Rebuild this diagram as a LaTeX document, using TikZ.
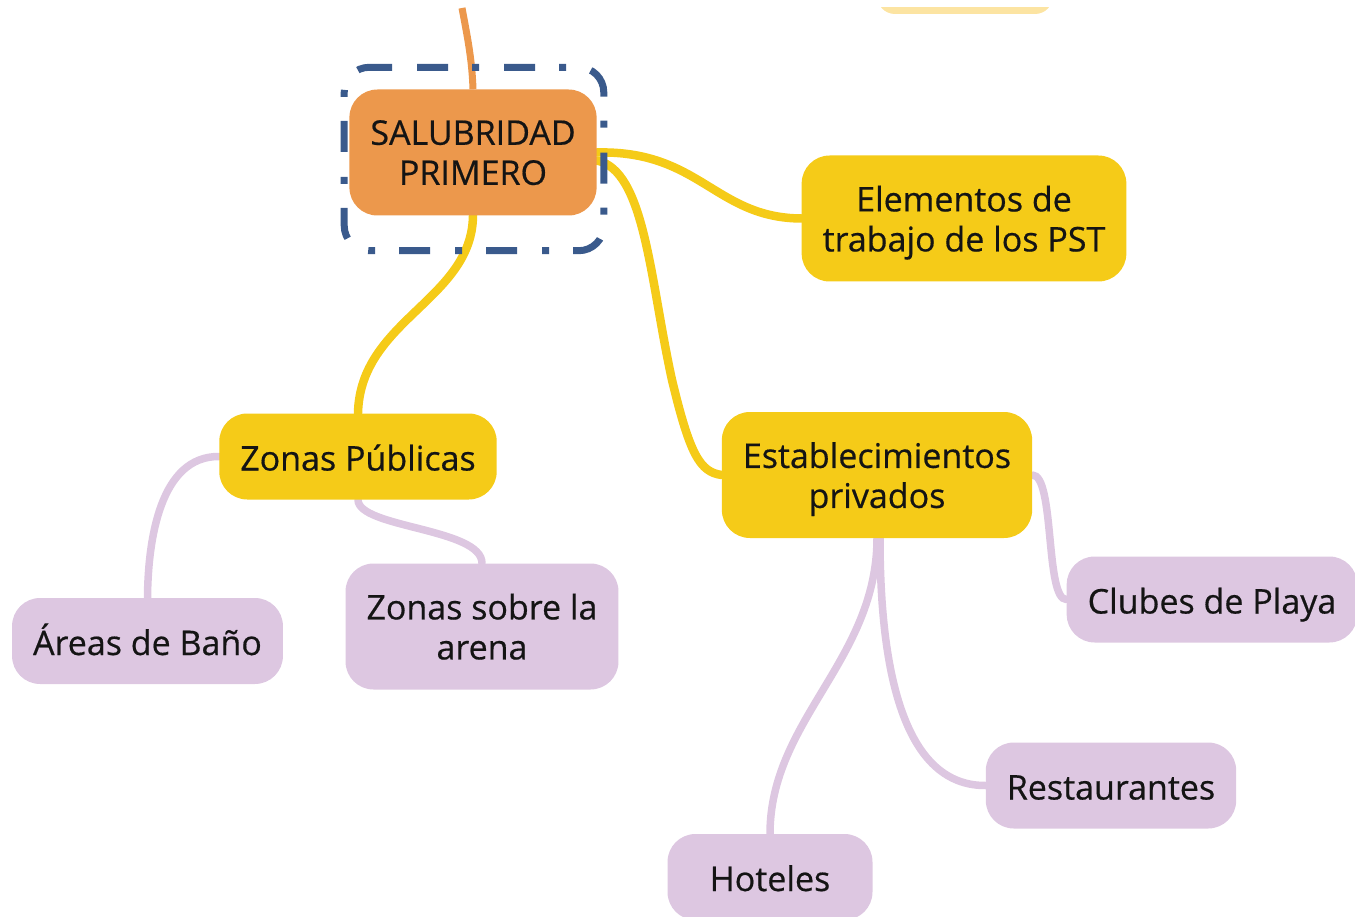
\documentclass[tikz,border=0pt]{standalone}
\usepackage{fontspec}
\setmainfont{Open Sans}
\newfontfamily\mapafont{Open Sans}[FakeBold=0.5]
\usetikzlibrary{backgrounds}
\definecolor{saludorange}{RGB}{236,152,76}
\definecolor{ramayellow}{RGB}{245,203,24}
\definecolor{hojalila}{RGB}{221,199,225}
\definecolor{marcoblue}{RGB}{58,90,140}
\definecolor{palido}{RGB}{252,228,162}
\tikzset{
	tema/.style={rounded corners=28pt, inner xsep=21pt, inner ysep=0pt, align=center,
		font=\mapafont\fontsize{34}{40}\selectfont, text=black!92},
	uno/.style={minimum height=86pt, text height=28pt, text depth=0pt},
	dos/.style={minimum height=126pt, text depth=0pt},
	central/.style={tema, dos, fill=saludorange},
	rama/.style={tema, fill=ramayellow},
	hoja/.style={tema, fill=hojalila},
	enlace/.style={line width=8.5pt, line cap=round, draw=ramayellow},
	enlacelila/.style={line width=7.5pt, line cap=round, draw=hojalila},
	marco/.style={line width=7pt, draw=marcoblue, rounded corners=25pt,
		dash pattern=on 7pt off 25pt on 31pt off 24pt},
}
\begin{document}
\begin{tikzpicture}[x=1pt, y=-1pt]
	\useasboundingbox (0,0) rectangle (1355,917);
	% nodes
	\node[central] (salud) at (473,152.5) {SALUBRIDAD\\PRIMERO};
	\node[rama, dos] (elementos) at (964,218.5) {Elementos de\\trabajo de los PST};
	\node[rama, uno] (publicas) at (358,456.5) {Zonas Públicas};
	\node[rama, dos] (privados) at (877,475) {Establecimientos\\privados};
	\node[hoja, uno] (banio) at (147.5,641) {Áreas de Baño};
	\node[hoja, dos] (arena) at (482,626.5) {Zonas sobre la\\arena};
	\node[hoja, uno] (clubes) at (1212,599.5) {Clubes de Playa};
	\node[hoja, uno] (restaurantes) at (1111,785.5) {Restaurantes};
	\node[hoja, uno, minimum width=205pt] (hoteles) at (770,877) {Hoteles};
	\coordinate (arriba) at (462,8);
	% node cut off at the top
	\begin{scope}
		\clip (0,8) rectangle (1355,917);
		\fill[palido, rounded corners=18pt] (877,-40) rectangle (1053,14);
	\end{scope}
	% links
	\begin{pgfonlayer}{background}
		\draw[line width=7pt, saludorange] (arriba) .. controls (468,40) and (472,60) .. (salud.north);
		\draw[enlace] (salud.east) .. controls (700,150) and (715,218) .. (elementos.west);
		\draw[enlace] ([yshift=-8pt]salud.east) .. controls (645,170) and (650,280) .. (672,380)
			.. controls (690,455) and (700,472) .. (privados.west);
		\draw[enlace] (salud.south) .. controls (472,300) and (360,320) .. (publicas.north);
		\draw[enlacelila] (publicas.west) .. controls (160,456) and (148,540) .. (banio.north);
		\draw[enlacelila] (publicas.south) .. controls (358,528) and (482,528) .. (arena.north);
		\draw[enlacelila] (privados.east) .. controls (1055,475) and (1045,600) .. (clubes.west);
		\draw[enlacelila] (privados.south) .. controls (877,660) and (770,720) .. (hoteles.north);
		\draw[enlacelila] ([xshift=3pt]privados.south) .. controls (880,700) and (915,786) .. (restaurantes.west);
	\end{pgfonlayer}
	% selection frame
	\coordinate (m0) at ([xshift=36pt,yshift=22pt]salud.north west);
	\draw[marco] (m0) -- ([xshift=7pt,yshift=22pt]salud.north east)
		-- ([xshift=7pt,yshift=-35pt]salud.south east) -- ([xshift=-5pt,yshift=-35pt]salud.south west)
		-- ([xshift=-5pt,yshift=22pt]salud.north west) -- (m0);
\end{tikzpicture}
\end{document}
